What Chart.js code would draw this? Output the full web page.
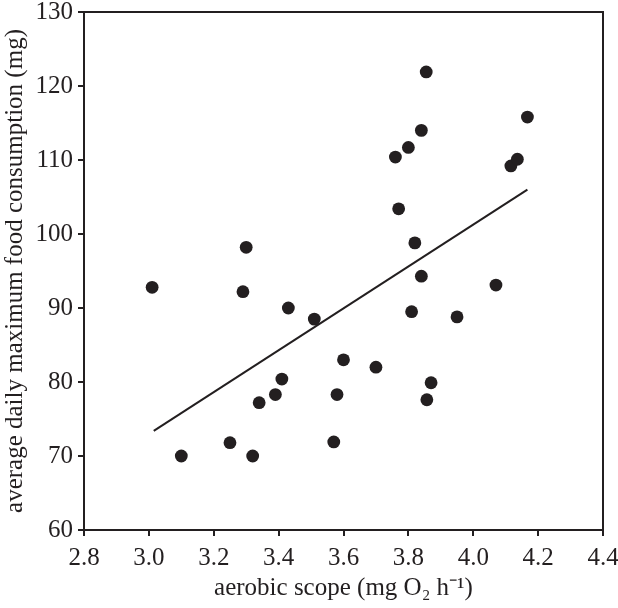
<!DOCTYPE html>
<html>
<head>
<meta charset="utf-8">
<script src="https://cdn.jsdelivr.net/npm/chart.js@4"></script>
<style>
  html, body { margin: 0; padding: 0; background: #fff; }
  #wrap { width: 618px; height: 608px; }
</style>
</head>
<body>
<div id="wrap"><canvas id="chart" width="618" height="608"></canvas></div>
<script>
// ---- data ----
const aerobicScope = [
  3.01, 3.10, 3.25, 3.29, 3.30, 3.32, 3.34, 3.39, 3.41, 3.43,
  3.51, 3.57, 3.58, 3.60, 3.70, 3.76, 3.77, 3.80, 3.81, 3.82,
  3.84, 3.84, 3.855, 3.857, 3.87, 3.95, 4.07, 4.116, 4.136, 4.167
];
const foodConsumption = [
  92.8, 70.0, 71.8, 92.2, 98.2, 70.0, 77.2, 78.3, 80.4, 90.0,
  88.5, 71.9, 78.3, 83.0, 82.0, 110.4, 103.4, 111.7, 89.5, 98.8,
  114.0, 94.3, 121.9, 77.6, 79.9, 88.8, 93.1, 109.2, 110.1, 115.8
];
// fitted line end points
const fitX = [3.015, 4.167];
const fitY = [73.4, 106.0];

const xTicks = [2.8, 3.0, 3.2, 3.4, 3.6, 3.8, 4.0, 4.2, 4.4];
const yTicks = [60, 70, 80, 90, 100, 110, 120, 130];

const INK = '#231f20';
const FONT = "'Liberation Serif', 'Times New Roman', serif";
const FONT_SIZE = 25;

// draw the closed frame round the plot area
const framePlugin = {
  id: 'frame',
  afterDraw(chart) {
    const { ctx, chartArea: a } = chart;
    ctx.save();
    ctx.strokeStyle = INK;
    ctx.lineWidth = 2;
    ctx.strokeRect(a.left, a.top, a.right - a.left, a.bottom - a.top);
    ctx.restore();
  }
};

const points = aerobicScope.map((x, i) => ({ x, y: foodConsumption[i] }));
const fit = fitX.map((x, i) => ({ x, y: fitY[i] }));

new Chart(document.getElementById('chart'), {
  type: 'scatter',
  data: {
    datasets: [
      {
        data: points,
        pointRadius: 6.4,
        pointBackgroundColor: INK,
        pointBorderWidth: 0,
      },
      {
        type: 'line',
        data: fit,
        borderColor: INK,
        borderWidth: 2,
        pointRadius: 0,
        fill: false,
      },
    ],
  },
  options: {
    responsive: false,
    animation: false,
    events: [],
    layout: { padding: { left: 0, right: 15, top: 12, bottom: 0 } },
    plugins: { legend: { display: false }, tooltip: { enabled: false } },
    scales: {
      x: {
        type: 'linear',
        min: 2.8,
        max: 4.4,
        afterBuildTicks: s => { s.ticks = xTicks.map(v => ({ value: v })); },
        afterFit: s => { s.height = 78; s.paddingLeft = 0; s.paddingRight = 0; },
        grid: { display: true, drawOnChartArea: false, drawTicks: true, tickLength: 6, color: INK, lineWidth: 2 },
        border: { display: true, color: INK, width: 2 },
        ticks: {
          color: INK,
          font: { family: FONT, size: FONT_SIZE },
          padding: 7,
          maxRotation: 0,
          callback: v => v.toFixed(1),
        },
        title: {
          display: true,
          text: 'aerobic scope (mg O\u2082 h\u207B\u00B9)',
          color: INK,
          font: { family: FONT, size: FONT_SIZE },
          padding: { top: 0, bottom: 5 },
        },
      },
      y: {
        type: 'linear',
        min: 60,
        max: 130,
        afterBuildTicks: s => { s.ticks = yTicks.map(v => ({ value: v })); },
        afterFit: s => { s.width = 84; s.paddingTop = 0; s.paddingBottom = 0; },
        grid: { display: true, drawOnChartArea: false, drawTicks: true, tickLength: 6, color: INK, lineWidth: 2 },
        border: { display: true, color: INK, width: 2 },
        ticks: {
          color: INK,
          font: { family: FONT, size: FONT_SIZE },
          padding: 5,
        },
        title: {
          display: true,
          text: 'average daily maximum food consumption (mg)',
          color: INK,
          font: { family: FONT, size: FONT_SIZE },
          padding: { top: 0, bottom: 0 },
        },
      },
    },
  },
  plugins: [framePlugin],
});
</script>
</body>
</html>
